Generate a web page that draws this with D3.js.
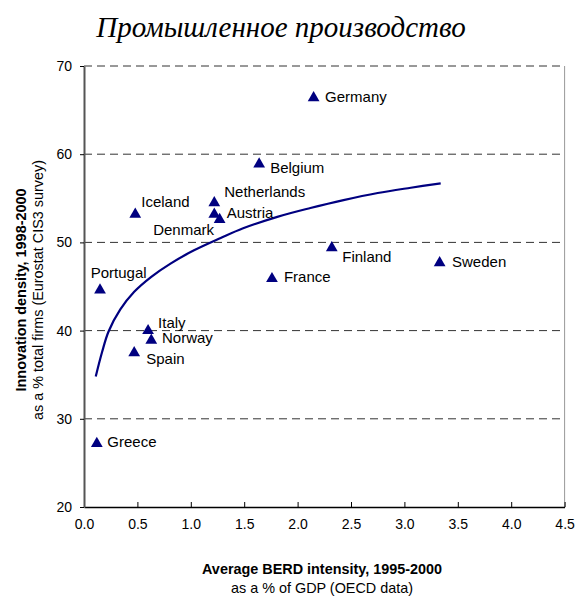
<!DOCTYPE html>
<html><head><meta charset="utf-8">
<script src="https://cdn.jsdelivr.net/npm/d3@7"></script>
<style>body{margin:0;background:#fff}</style>
</head><body><svg id="c" width="577" height="597"></svg>
<script>
const countries = ["Germany","Belgium","Netherlands","Austria","Denmark","Iceland","Portugal","France","Finland","Sweden","Italy","Norway","Spain","Greece"];
const berd = [2.15,1.64,1.22,1.22,1.27,0.48,0.15,1.76,2.32,3.33,0.60,0.63,0.47,0.12];
const innovation = [66.5,59.0,54.6,53.3,52.7,53.3,44.7,46.0,49.5,47.8,40.1,39.0,37.6,27.3];
const trendX = [0.11,0.17,0.23,0.34,0.47,0.63,0.81,1.03,1.28,1.49,1.81,2.12,2.43,2.75,3.06,3.34];
const trendY = [34.8,37.6,39.9,42.4,44.4,46.1,47.6,49.1,50.5,51.6,52.9,53.9,54.8,55.6,56.2,56.7];
const xTicks = [0,0.5,1,1.5,2,2.5,3,3.5,4,4.5];
const yTicks = [20,30,40,50,60,70];
const title = "Промышленное производство";
const xTitle = ["Average BERD intensity, 1995-2000","as a % of GDP (OECD data)"];
const yTitle = ["Innovation density, 1998-2000","as a % total firms (Eurostat CIS3 survey)"];
// label offsets [dx, dy(baseline), anchor]
const labelPos = {Germany:[11.5,5,"start"],Belgium:[11,9.7,"start"],Netherlands:[10,-5,"start"],Austria:[12.4,5,"start"],
 Denmark:[-5.6,16.4,"end"],Iceland:[6,-6.6,"start"],Portugal:[-9.3,-11.4,"start"],France:[12,4.3,"start"],Finland:[10.5,15.5,"start"],
 Sweden:[12.4,4.9,"start"],Italy:[10,-1.4,"start"],Norway:[10.7,4,"start"],Spain:[12,12.2,"start"],Greece:[10.5,4.7,"start"]};

const svg = d3.select("#c");
const L=84,R=564.6,T=66,B=507;
const x = d3.scaleLinear().domain([0,4.5]).range([L,R]);
const y = d3.scaleLinear().domain([20,70]).range([B,T]);
const font = "Liberation Sans, Arial, sans-serif";

svg.append("text").attr("x",281).attr("y",37).attr("text-anchor","middle")
 .attr("font-family","Liberation Serif, Times New Roman, serif").attr("font-style","italic")
 .attr("font-size",29).attr("fill","#000").text(title);

// gridlines
svg.append("g").selectAll("line").data(yTicks.filter(d=>d>20)).join("line")
 .attr("x1",L).attr("x2",R).attr("y1",d=>y(d)).attr("y2",d=>y(d))
 .attr("stroke","#333").attr("stroke-width",1).attr("stroke-dasharray","8,5");
// right border
svg.append("line").attr("x1",R).attr("x2",R).attr("y1",T).attr("y2",B).attr("stroke","#999").attr("stroke-width",1);

// axes
const xa = svg.append("g").attr("transform",`translate(0,${B})`)
 .call(d3.axisBottom(x).tickValues(xTicks).tickSize(-5).tickSizeOuter(0).tickPadding(12).tickFormat(d3.format(".1f")));
xa.select(".domain").attr("stroke","#000").attr("stroke-width",1.5);
xa.selectAll(".tick line").attr("stroke","#000");
xa.selectAll("text").attr("font-family",font).attr("font-size",14).attr("fill","#000");
const ya = svg.append("g").attr("transform",`translate(${L},0)`)
 .call(d3.axisLeft(y).tickValues(yTicks).tickSize(4).tickSizeOuter(0).tickPadding(8));
ya.select(".domain").attr("stroke","#555").attr("stroke-width",2);
ya.selectAll(".tick line").attr("stroke","#000");
ya.selectAll("text").attr("font-family",font).attr("font-size",14).attr("fill","#000");

// trend
const pts = trendX.map((d,i)=>[d,trendY[i]]);
svg.append("path").datum(pts).attr("fill","none").attr("stroke","#000080").attr("stroke-width",2.2)
 .attr("d",d3.line().x(d=>x(d[0])).y(d=>y(d[1])).curve(d3.curveCatmullRom));

// points
const data = countries.map((c,i)=>({c,x:berd[i],y:innovation[i]}));
const tri = d3.symbol().type(d3.symbolTriangle).size(60);
svg.append("g").selectAll("path").data(data).join("path")
 .attr("d",tri).attr("transform",d=>`translate(${x(d.x)},${y(d.y)+1})`).attr("fill","#000080");
svg.append("g").selectAll("text").data(data).join("text")
 .attr("x",d=>x(d.x)+labelPos[d.c][0]).attr("y",d=>y(d.y)+labelPos[d.c][1])
 .attr("text-anchor",d=>labelPos[d.c][2])
 .attr("font-family",font).attr("font-size",15).attr("fill","#000").text(d=>d.c);

// axis titles
svg.append("text").attr("x",322).attr("y",574).attr("text-anchor","middle").attr("font-family",font)
 .attr("font-weight","bold").attr("font-size",14.4).text(xTitle[0]);
svg.append("text").attr("x",322).attr("y",593).attr("text-anchor","middle").attr("font-family",font)
 .attr("font-size",14.4).text(xTitle[1]);
svg.append("text").attr("transform","translate(26,290) rotate(-90)").attr("text-anchor","middle").attr("font-family",font)
 .attr("font-weight","bold").attr("font-size",14.4).text(yTitle[0]);
svg.append("text").attr("transform","translate(43,290) rotate(-90)").attr("text-anchor","middle").attr("font-family",font)
 .attr("font-size",14.4).text(yTitle[1]);
</script></body></html>
